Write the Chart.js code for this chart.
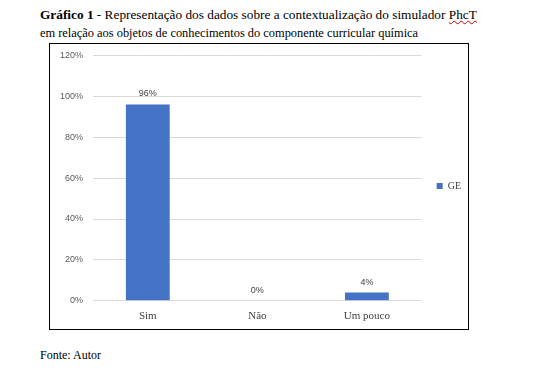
<!DOCTYPE html>
<html>
<head>
<meta charset="utf-8">
<script src="https://cdn.jsdelivr.net/npm/chart.js@4"></script>
<style>
  body { margin:0; background:#fff; width:541px; height:382px; position:relative; overflow:hidden; }
  .txt { position:absolute; font-family:"Liberation Serif", "Times New Roman", serif; color:#000; white-space:nowrap; }
  #t1 { left:40px; top:7px; font-size:13.3px; }
  #t1 .sq { text-decoration: underline wavy #d00000; text-decoration-thickness: 1px; }
  #t2 { left:40px; top:26px; font-size:12.4px; }
  #src { left:40px; top:348px; font-size:12px; }
  #box { position:absolute; left:49px; top:43px; width:418px; height:285px; border:1px solid #000; }
  #chart { position:absolute; left:50px; top:40px; }
</style>
</head>
<body>
<div class="txt" id="t1"><b>Gráfico 1</b> - Representação dos dados sobre a contextualização do simulador <span class="sq">PhcT</span></div>
<div class="txt" id="t2">em relação aos objetos de conhecimentos do componente curricular química</div>
<div id="box"></div>
<canvas id="chart" width="418" height="289"></canvas>
<div class="txt" id="src">Fonte: Autor</div>
<script>
// dados do gráfico
const categorias = ["Sim", "Não", "Um pouco"];
const valoresGE = [0.96, 0, 0.04];
const rotulosGE = ["96%", "0%", "4%"];

// rótulos acima das barras
const rotulosPlugin = {
  id: "rotulos",
  afterDatasetsDraw(chart) {
    const ctx = chart.ctx;
    const meta = chart.getDatasetMeta(0);
    ctx.save();
    ctx.font = "9px 'Liberation Sans', Arial, sans-serif";
    ctx.fillStyle = "#404040";
    ctx.textAlign = "center";
    ctx.textBaseline = "bottom";
    meta.data.forEach((bar, i) => {
      ctx.fillText(rotulosGE[i], bar.x, bar.y - 6);
    });
    ctx.restore();
  }
};

new Chart(document.getElementById("chart").getContext("2d"), {
  type: "bar",
  data: {
    labels: categorias,
    datasets: [{
      label: "GE",
      data: valoresGE,
      backgroundColor: "#4472c4",
      categoryPercentage: 1,
      barPercentage: 0.4
    }]
  },
  options: {
    responsive: false,
    animation: false,
    layout: { padding: { top: 0, left: 0, right: -3, bottom: -3 } },
    plugins: {
      tooltip: { enabled: false },
      legend: {
        position: "right",
        labels: {
          boxWidth: 6,
          boxHeight: 6,
          padding: 15,
          color: "#404040",
          font: { family: "'Liberation Serif', serif", size: 10 }
        }
      }
    },
    scales: {
      x: {
        grid: { display: false, drawTicks: false },
        border: { color: "#d9d9d9" },
        ticks: {
          color: "#404040",
          padding: 9,
          font: { family: "'Liberation Serif', serif", size: 11 }
        }
      },
      y: {
        min: 0,
        max: 1.2,
        grid: { color: "#d9d9d9", drawTicks: false },
        border: { display: false },
        ticks: {
          stepSize: 0.2,
          padding: 10,
          color: "#595959",
          font: { family: "'Liberation Sans', Arial, sans-serif", size: 9 },
          callback: (v) => Math.round(v * 100) + "%"
        }
      }
    }
  },
  plugins: [rotulosPlugin]
});
</script>
</body>
</html>
